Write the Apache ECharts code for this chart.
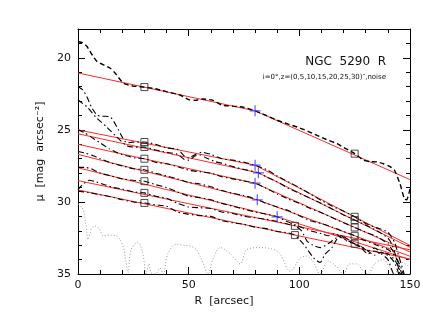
<!DOCTYPE html>
<html>
<head>
<meta charset="utf-8">
<script src="https://cdn.jsdelivr.net/npm/echarts@6/dist/echarts.min.js"></script>
<style>
    html, body { margin: 0; padding: 0; background: #fff; }
    #chart { width: 423px; height: 327px; }
</style>
</head>
<body>
<div id="chart"></div>
<script>
// tick values
const xTicks = [0, 50, 100, 150];
const yMajorTicks = [20, 25, 30, 35];
const yMinorTicks = [18, 19, 20, 21, 22, 23, 24, 25, 26, 27, 28, 29, 30, 31, 32, 33, 34, 35];

// major axis profile (dashed)
const profileMajor = [[0, 18.87], [2, 18.95], [4, 19.2], [6, 19.7], [8.6, 20.26], [11, 20.45], [14.6, 20.72], [17, 21.1],
    [20.6, 21.77], [25, 21.96], [30, 22.03], [35, 22.15], [40, 22.35], [46, 22.58], [50, 22.9], [53, 22.95], [56, 22.86],
    [61, 22.95], [65, 23.28], [70, 23.35], [75, 23.44], [80, 23.68], [85, 24.0], [90, 24.33], [95, 24.6], [99, 24.8],
    [104, 25.1], [108, 25.38], [112, 25.65], [117, 25.96], [121, 26.3], [125, 26.65], [129, 27.1], [132, 27.2], [135, 27.22],
    [138, 27.35], [141, 27.55], [143, 27.8], [145.5, 28.75], [147.5, 29.8], [148.5, 29.85], [150, 29.1]];

// cuts at z = 0..30 arcsec (dash-dot)
const cutZ0 = [[0, 22.0], [2, 22.2], [4, 22.7], [6, 23.4], [8.6, 23.98], [11, 24.05], [14.6, 24.1], [17.6, 24.8], [20, 25.5],
    [22, 25.9], [25, 25.85], [30, 25.84], [35, 26.0], [40, 26.25], [45, 26.35], [48, 26.8], [50, 26.95], [53, 26.7], [56, 26.55],
    [60, 26.7], [65, 27.0], [70, 27.1], [75, 27.25], [80, 27.45], [85, 27.75], [90, 28.2], [95, 28.6], [100, 29.0], [105, 29.45],
    [110, 29.9], [115, 30.3], [120, 30.65], [125, 31.03], [130, 31.5], [135, 31.8], [140, 32.1], [143, 32.8], [145, 33.8],
    [147, 34.8], [148, 35.5]];
const cutZ5 = [[0, 22.93], [4, 23.4], [8.6, 24.2], [13, 24.8], [17.6, 25.5], [22, 26.1], [26, 26.2], [30, 26.19], [35, 26.4],
    [40, 26.55], [45, 26.7], [48, 27.05], [50, 27.1], [53, 26.8], [55, 26.75], [58, 26.95], [62, 27.2], [66, 27.35], [70, 27.55],
    [75, 27.75], [81.5, 27.98], [85, 28.25], [90, 28.6], [95, 29.05], [100, 29.4], [105, 29.75], [110, 30.1], [115, 30.5],
    [120, 30.9], [125, 31.26], [130, 31.6], [135, 32.0], [140, 32.5], [142, 33.0], [144, 34.0], [146, 35.5]];
const cutZ10 = [[0, 25.0], [3, 25.2], [6, 25.5], [10, 25.9], [14, 26.3], [18, 26.6], [22, 26.8], [26, 26.95], [30, 27.0],
    [35, 27.25], [40, 27.35], [45, 27.55], [50, 27.8], [55, 27.9], [60, 28.0], [65, 28.25], [70, 28.4], [75, 28.55], [80, 28.7],
    [85, 29.05], [90, 29.45], [95, 29.8], [100, 30.1], [105, 30.45], [110, 30.75], [115, 31.1], [120, 31.45], [125, 31.77],
    [130, 32.1], [135, 32.4], [140, 32.9], [143, 33.6], [146, 34.6], [148, 35.5]];
const cutZ15 = [[0, 26.5], [3, 26.6], [6, 26.75], [10, 27.0], [15, 27.3], [20, 27.5], [25, 27.7], [30, 27.77], [35, 28.0],
    [40, 28.2], [45, 28.4], [50, 28.65], [55, 28.75], [60, 28.95], [65, 29.2], [70, 29.4], [75, 29.55], [81, 29.85], [85, 30.1],
    [90, 30.35], [95, 30.6], [100, 30.95], [105, 31.3], [110, 31.5], [115, 31.75], [120, 32.05], [125, 32.35], [130, 32.7],
    [135, 33.0], [140, 33.3], [143, 33.7], [145, 34.3], [147, 35.5]];
const cutZ20 = [[0, 27.6], [3, 27.6], [6, 27.7], [10, 28.0], [15, 28.2], [20, 28.4], [25, 28.5], [30, 28.56], [35, 28.8],
    [40, 29.0], [45, 29.3], [50, 29.6], [55, 29.7], [60, 29.85], [65, 30.1], [70, 30.3], [75, 30.5], [80, 30.7], [85, 30.85],
    [90, 31.03], [95, 31.4], [100, 31.7], [105, 32.0], [110, 32.2], [113, 32.35], [116, 32.2], [119, 32.5], [122, 32.7],
    [125, 32.9], [128, 33.1], [131, 33.4], [134, 33.2], [137, 33.5], [140, 33.6], [143, 34.0], [145, 34.6], [147, 35.5]];
const cutZ25 = [[0, 29.15], [2, 28.8], [5, 28.5], [8, 28.6], [12, 28.8], [16, 29.0], [20, 29.1], [25, 29.3], [30, 29.37],
    [35, 29.6], [40, 29.75], [45, 30.1], [50, 30.35], [55, 30.4], [60, 30.45], [65, 30.7], [70, 30.8], [75, 31.0], [80, 31.1],
    [85, 31.2], [90, 31.35], [95, 31.55], [98, 31.66], [101, 32.0], [103.4, 32.7], [106, 33.0], [109.4, 33.17], [113, 32.9],
    [116.9, 32.47], [119, 32.35], [121.4, 32.7], [125, 32.9], [128, 33.2], [131, 33.6], [134, 33.4], [137, 33.6], [140, 34.0],
    [142, 34.8], [144, 35.5]];
const cutZ30 = [[0, 29.25], [5, 29.35], [10, 29.5], [15, 29.65], [20, 29.85], [25, 30.0], [30, 30.07],
    [35, 30.2], [40, 30.3], [45, 30.7], [50, 30.85], [55, 30.95], [60, 31.0], [65, 31.3], [70, 31.45], [75, 31.55], [80, 31.75],
    [85, 31.85], [90, 32.05], [95, 32.15], [98, 32.3], [101.9, 32.93], [106.4, 33.87], [109.4, 34.2], [111.6, 33.63],
    [114.7, 33.17], [116.9, 32.6], [119.2, 32.35], [122, 32.6], [125, 32.95], [128, 33.1], [131, 33.4], [134, 33.7],
    [137, 33.5], [140, 33.7], [143, 34.2], [146, 35.5]];

// sky noise level (dotted)
const noise = [[0, 30.14], [2.2, 30.5], [3.5, 31.5], [4.5, 32.6], [5.5, 32.2], [6, 31.9], [7.5, 31.66], [9.8, 31.9],
    [11.3, 32.35], [14, 32.3], [17.3, 32.35], [20.3, 33.05], [21.5, 34.0], [22.6, 34.9], [24, 33.3], [27, 32.8], [29.3, 33.6],
    [30.8, 35.0], [32, 34.3], [33, 34.9], [35, 35.0], [37, 34.6], [38.5, 35.0], [40.6, 33.6], [44.4, 32.93], [47.4, 33.0],
    [50.4, 33.05], [53.4, 33.3], [56.4, 34.2], [58.7, 35.0], [60.9, 34.0], [64.3, 33.17], [68.8, 33.6], [73.3, 34.3],
    [76.3, 33.3], [82.3, 33.17], [88.3, 33.3], [91.3, 33.6], [95.9, 34.8], [100.4, 33.9], [103.4, 33.75], [106.4, 34.2],
    [109.4, 35.0], [113.1, 34.1], [116.9, 34.5], [119.9, 35.0], [122.9, 34.3], [125.9, 34.3], [128.9, 34.8], [131, 35.0],
    [134, 34.3], [137.9, 34.0], [141, 34.6], [143, 35.0], [146, 34.2], [150, 34.5]];

// broken exponential fits (red)
const fitMajor = [[0, 21.05], [80, 23.68], [150, 28.45]];
const fitZ0 = [[0, 25.0], [80, 27.45], [150, 33.02]];
const fitZ5 = [[0, 25.27], [81.5, 27.98], [150, 33.15]];
const fitZ10 = [[0, 26.0], [80, 28.7], [150, 33.47]];
const fitZ15 = [[0, 26.7], [81, 29.85], [150, 33.77]];
const fitZ20 = [[0, 27.63], [90, 31.03], [150, 34.0]];
const fitZ25 = [[0, 28.52], [150, 33.32]];
const fitZ30 = [[0, 29.17], [150, 33.96]];

// fit range limits and break radii
const rangeMarks = [[30, 22.03], [125, 26.65], [30, 25.84], [30, 26.19], [30, 27.0], [30, 27.77], [30, 28.56], [30, 29.37],
    [30, 30.07], [125, 31.03], [125, 31.26], [125, 31.77], [125, 32.35], [125, 32.9], [98, 31.66], [98, 32.3]];
const breakMarks = [[80, 23.68], [80, 27.45], [81.5, 27.98], [80, 28.7], [81, 29.85], [90, 31.03]];

const chart = echarts.init(document.getElementById('chart'), null, { renderer: 'canvas' });

const font = 'DejaVu Sans';
const fits = [fitMajor, fitZ0, fitZ5, fitZ10, fitZ15, fitZ20, fitZ25, fitZ30];
const cuts = [cutZ0, cutZ5, cutZ10, cutZ15, cutZ20, cutZ25, cutZ30];

const yAxisBase = (position, ticks, len, showLine) => ({
    type: 'value', position: position, min: 18, max: 35, inverse: true,
    axisLine: { show: showLine, lineStyle: { color: '#000', width: 1 } },
    axisTick: { inside: true, length: len, customValues: ticks, lineStyle: { color: '#000' } },
    axisLabel: { show: false },
    splitLine: { show: false }
});

const xAxisBase = (position) => ({
    type: 'value', position: position, min: 0, max: 150, interval: 50,
    axisLine: { show: true, lineStyle: { color: '#000', width: 1 } },
    axisTick: { inside: true, length: 7, lineStyle: { color: '#000' } },
    minorTick: { show: true, splitNumber: 5, length: 4, lineStyle: { color: '#000' } },
    axisLabel: { show: false },
    splitLine: { show: false }
});

const bottomX = xAxisBase('bottom');
bottomX.axisLabel = { show: true, customValues: xTicks, color: '#111', fontFamily: font, fontSize: 11, margin: 6 };
bottomX.name = 'R  [arcsec]';
bottomX.nameLocation = 'middle';
bottomX.nameGap = 17;
bottomX.nameTextStyle = { color: '#111', fontFamily: font, fontSize: 11, padding: [0, 40, 0, 0] };

const leftY = yAxisBase('left', yMajorTicks, 7, true);
leftY.axisLabel = { show: true, customValues: yMajorTicks, color: '#111', fontFamily: font, fontSize: 11, margin: 7 };
leftY.name = 'μ  [mag  arcsec⁻²]';
leftY.nameLocation = 'middle';
leftY.nameGap = 30;
leftY.nameTextStyle = { color: '#111', fontFamily: font, fontSize: 11 };

const series = [];
fits.forEach(f => series.push({
    type: 'line', data: f, showSymbol: false, silent: true, z: 2,
    lineStyle: { color: '#ff2a2a', width: 1 }
}));
series.push({
    type: 'line', data: profileMajor, showSymbol: false, smooth: 0.2, z: 3,
    lineStyle: { color: '#000', width: 1.4, type: [5, 3] }
});
cuts.forEach(c => series.push({
    type: 'line', data: c, showSymbol: false, smooth: 0.2, z: 3,
    lineStyle: { color: '#000', width: 1.1, type: [6, 3, 1.5, 3] }
}));
series.push({
    type: 'line', data: noise, showSymbol: false, smooth: 0.35, z: 1,
    lineStyle: { color: '#999', width: 1, type: [1, 2] }
});
series.push({
    type: 'scatter', data: rangeMarks, symbol: 'rect', symbolSize: 7, z: 5,
    itemStyle: { color: 'rgba(0,0,0,0)', borderColor: '#222', borderWidth: 1 }
});
series.push({
    type: 'scatter', data: breakMarks, symbol: 'path://M5,0L5,10M0,5L10,5', symbolSize: 11, z: 6,
    itemStyle: { color: 'rgba(0,0,0,0)', borderColor: '#3535ff', borderWidth: 1.2 }
});

const option = {
    animation: false,
    backgroundColor: '#fff',
    title: [
        { text: 'NGC  5290  R', right: 32, top: 51, textStyle: { color: '#111', fontFamily: font, fontSize: 12, fontWeight: 'normal' } },
        { text: 'i=0°,z=(0,5,10,15,20,25,30)″,noise', right: 32, top: 69, textStyle: { color: '#111', fontFamily: font, fontSize: 7, fontWeight: 'normal' } }
    ],
    grid: { left: 78, right: 13, top: 29, bottom: 53, outerBoundsMode: 'none' },
    xAxis: [bottomX, xAxisBase('top')],
    yAxis: [leftY, yAxisBase('left', yMinorTicks, 4, false), yAxisBase('right', yMajorTicks, 7, true), yAxisBase('right', yMinorTicks, 4, false)],
    series: series
};

chart.setOption(option);
</script>
</body>
</html>
